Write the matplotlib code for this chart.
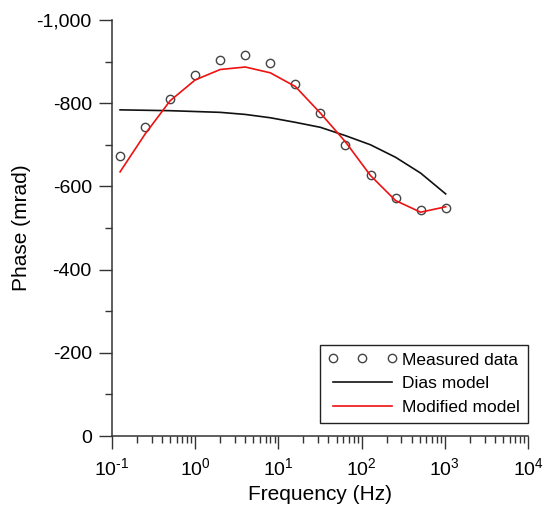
import numpy as np
import matplotlib
matplotlib.use('Agg')
import matplotlib.pyplot as plt
from matplotlib import rcParams
from matplotlib.ticker import FuncFormatter, LogLocator, MultipleLocator

rcParams['font.family'] = 'sans-serif'
rcParams['font.sans-serif'] = ['Liberation Sans', 'DejaVu Sans']
rcParams['font.size'] = 14
rcParams['mathtext.fontset'] = 'custom'
rcParams['mathtext.rm'] = 'Liberation Sans'
rcParams['mathtext.it'] = 'Liberation Sans'
rcParams['mathtext.default'] = 'regular'
rcParams['axes.unicode_minus'] = False

# Frequencies (Hz) and phase values (mrad)
freq = [0.125, 0.25, 0.5, 1, 2, 4, 8, 16, 32, 64, 128, 256, 512, 1024]
measured = [-674, -743, -810, -867, -905, -916, -896, -847, -776, -699, -627, -571, -544, -549]
dias_model = [-784, -783, -782, -780, -778, -773, -765, -754, -742, -722, -700, -670, -632, -582]
modified_model = [-635, -726, -806, -856, -881, -887, -873, -840, -776, -707, -626, -566, -538, -551]

fig = plt.figure(figsize=(5.44, 5.05), dpi=100)
ax = fig.add_axes([0.2059, 0.1366, 0.7647, 0.8238])

ax.plot(freq, measured, linestyle='none', marker='o', markersize=6,
        markerfacecolor='none', markeredgecolor='#444444', markeredgewidth=1.0,
        label='Measured data')
ax.plot(freq, dias_model, color='#111111', linewidth=1.2, label='Dias model')
ax.plot(freq, modified_model, color='#ee1111', linewidth=1.2, label='Modified model')

ax.set_xscale('log')
ax.set_xlim(0.1, 1e4)
ax.set_ylim(0, -1000)

ax.yaxis.set_major_locator(MultipleLocator(200))
ax.yaxis.set_minor_locator(MultipleLocator(100))
ax.yaxis.set_major_formatter(FuncFormatter(lambda v, p: '{:,.0f}'.format(v) if v != 0 else '0'))
ax.xaxis.set_major_locator(LogLocator(base=10, numticks=10))
ax.xaxis.set_minor_locator(LogLocator(base=10, subs=np.arange(2, 10), numticks=10))
ax.xaxis.set_major_formatter(FuncFormatter(lambda v, p: r'$10^{\text{%d}}$' % round(np.log10(v))))

for s in ['top', 'right']:
    ax.spines[s].set_visible(False)
for s in ['left', 'bottom']:
    ax.spines[s].set_color('#333333')
    ax.spines[s].set_linewidth(1.1)

ax.tick_params(which='major', direction='out', length=9.5, width=1.0, color='#333333',
               labelsize=14)
ax.tick_params(axis='y', which='major', pad=5)
ax.tick_params(axis='x', which='major', pad=6)
ax.tick_params(which='minor', direction='out', length=5, width=1.0, color='#333333')

ax.set_xlabel('Frequency (Hz)', fontsize=15, labelpad=4)
ax.set_ylabel('Phase (mrad)', fontsize=15, labelpad=4)

leg = ax.legend(loc='lower right', bbox_to_anchor=(1.0, 13 / 416), borderaxespad=0,
                numpoints=3, handlelength=4.0, handletextpad=0.3, labelspacing=0.5,
                fontsize=12.5, fancybox=False, framealpha=1, borderpad=0.45)
leg.get_frame().set_edgecolor('#222222')
leg.get_frame().set_linewidth(1.0)

fig.savefig('out.png', dpi=100)
